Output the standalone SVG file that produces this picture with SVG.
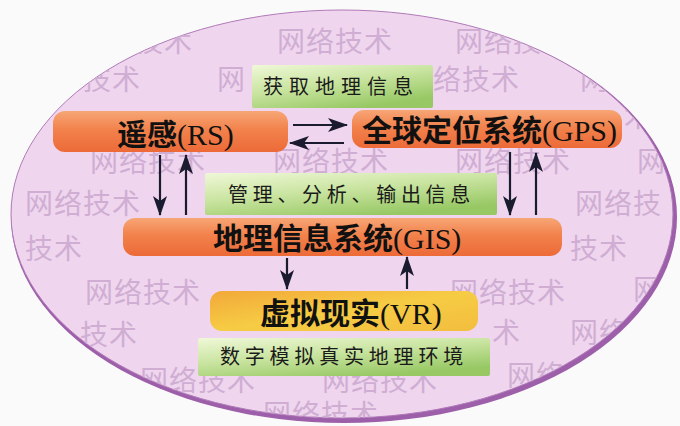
<svg xmlns="http://www.w3.org/2000/svg" width="680" height="426" viewBox="0 0 680 426">
  <defs>
    <linearGradient id="gOrange" x1="0" y1="0" x2="0" y2="1">
      <stop offset="0" stop-color="#f7a676"/>
      <stop offset="0.45" stop-color="#f2824c"/>
      <stop offset="1" stop-color="#ec6a38"/>
    </linearGradient>
    <linearGradient id="gYellow" x1="0" y1="0" x2="1" y2="1">
      <stop offset="0" stop-color="#f2a83a"/>
      <stop offset="0.5" stop-color="#f6cc44"/>
      <stop offset="1" stop-color="#f3bd3e"/>
    </linearGradient>
    <linearGradient id="gGreen" x1="0" y1="0" x2="0.6" y2="1">
      <stop offset="0" stop-color="#f0f8d8"/>
      <stop offset="0.5" stop-color="#c9e4a0"/>
      <stop offset="1" stop-color="#97c864"/>
    </linearGradient>
    <clipPath id="clipEll">
      <ellipse cx="342" cy="214" rx="331" ry="204"/>
    </clipPath>
    <marker id="arr" markerUnits="userSpaceOnUse" markerWidth="20" markerHeight="14" refX="19" refY="7" orient="auto">
      <path d="M0,0 L20,7 L0,14 L5,7 z" fill="#1b1b30"/>
    </marker>
  </defs>
  <style>
    .wm { font-family: "Noto Sans CJK SC", sans-serif; font-size: 28px; fill: #d0aed4; letter-spacing: 1px; }
    .cjk { font-family: "Noto Sans CJK SC", sans-serif; font-weight: bold; font-size: 30px; fill: #111; }
    .lat { font-family: "Liberation Serif", "Noto Sans CJK SC", serif; font-weight: normal; font-size: 30px; fill: #111; }
    .gtxt { font-family: "Noto Sans CJK SC", sans-serif; font-size: 20px; fill: #1a1a1a; }
    .org { fill: url(#gOrange); }
    .yel { fill: url(#gYellow); }
    .grn { fill: url(#gGreen); }
    .con line { stroke: #1b1b30; stroke-width: 2.2; marker-end: url(#arr); }
  </style>

  <rect x="0" y="0" width="680" height="426" fill="#fbfafb"/>

  <g id="background">
    <ellipse cx="344" cy="217" rx="333" ry="206" fill="#9d5fa9"/>
    <ellipse cx="342" cy="214" rx="331" ry="204" fill="#efd6ee" stroke="#b07ab8" stroke-width="1"/>
    <g clip-path="url(#clipEll)">
      <text class="wm" x="135" y="52">技术</text>
      <text class="wm" x="277" y="52">网络技术</text>
      <text class="wm" x="455" y="52">网络技</text>
      <text class="wm" x="83" y="90">技术</text>
      <text class="wm" x="217" y="90">网</text>
      <text class="wm" x="433" y="90">络技术</text>
      <text class="wm" x="580" y="90">网</text>
      <text class="wm" x="624" y="127">术</text>
      <text class="wm" x="90" y="172">网络技术</text>
      <text class="wm" x="273" y="172">网络技术</text>
      <text class="wm" x="455" y="172">网络技术</text>
      <text class="wm" x="637" y="172">网</text>
      <text class="wm" x="25" y="214">网络技术</text>
      <text class="wm" x="575" y="214">网络技</text>
      <text class="wm" x="25" y="259">技术</text>
      <text class="wm" x="570" y="259">技术</text>
      <text class="wm" x="85" y="303">网络技术</text>
      <text class="wm" x="450" y="303">网络技术</text>
      <text class="wm" x="633" y="300">网</text>
      <text class="wm" x="80" y="345">技术</text>
      <text class="wm" x="492" y="343">术</text>
      <text class="wm" x="570" y="343">网络</text>
      <text class="wm" x="140" y="391">网络技术</text>
      <text class="wm" x="322" y="391">网络技术</text>
      <text class="wm" x="507" y="386">网络</text>
      <text class="wm" x="263" y="425">网络技术</text>
    </g>
  </g>

  <g id="label-acquire">
    <rect class="grn" x="252" y="65" width="181" height="43" rx="2"/>
    <text class="gtxt" x="263" y="94" letter-spacing="6">获取地理信息</text>
  </g>

  <g id="node-rs">
    <rect class="org" x="53" y="111" width="235" height="41" rx="12"/>
    <text x="117" y="145"><tspan class="cjk">遥感</tspan><tspan class="lat">(RS)</tspan></text>
  </g>

  <g id="node-gps">
    <rect class="org" x="352" y="110" width="270" height="38" rx="12"/>
    <text x="362" y="141"><tspan class="cjk">全球定位系统</tspan><tspan class="lat">(GPS)</tspan></text>
  </g>

  <g id="label-manage">
    <rect class="grn" x="205" y="173" width="292" height="42" rx="2"/>
    <text class="gtxt" x="228" y="202" letter-spacing="4.7">管理、分析、输出信息</text>
  </g>

  <g id="node-gis">
    <rect class="org" x="123" y="218" width="439" height="38" rx="12"/>
    <text x="213" y="249"><tspan class="cjk">地理信息系统</tspan><tspan class="lat">(GIS)</tspan></text>
  </g>

  <g id="node-vr">
    <rect class="yel" x="210" y="291" width="268" height="40" rx="12"/>
    <text x="260" y="324"><tspan class="cjk">虚拟现实</tspan><tspan class="lat">(VR)</tspan></text>
  </g>

  <g id="label-simulate">
    <rect class="grn" x="198" y="338" width="292" height="38" rx="2"/>
    <text class="gtxt" x="220" y="364" letter-spacing="4.8">数字模拟真实地理环境</text>
  </g>

  <g id="connectors" class="con">
    <line x1="293" y1="125" x2="347" y2="125"/>
    <line x1="344" y1="143" x2="290" y2="143"/>
    <line x1="160" y1="155" x2="160" y2="215"/>
    <line x1="186" y1="215" x2="186" y2="155"/>
    <line x1="510" y1="152" x2="510" y2="215"/>
    <line x1="536" y1="215" x2="536" y2="153"/>
    <line x1="287" y1="258" x2="287" y2="289"/>
    <line x1="407" y1="289" x2="407" y2="257"/>
  </g>
</svg>
